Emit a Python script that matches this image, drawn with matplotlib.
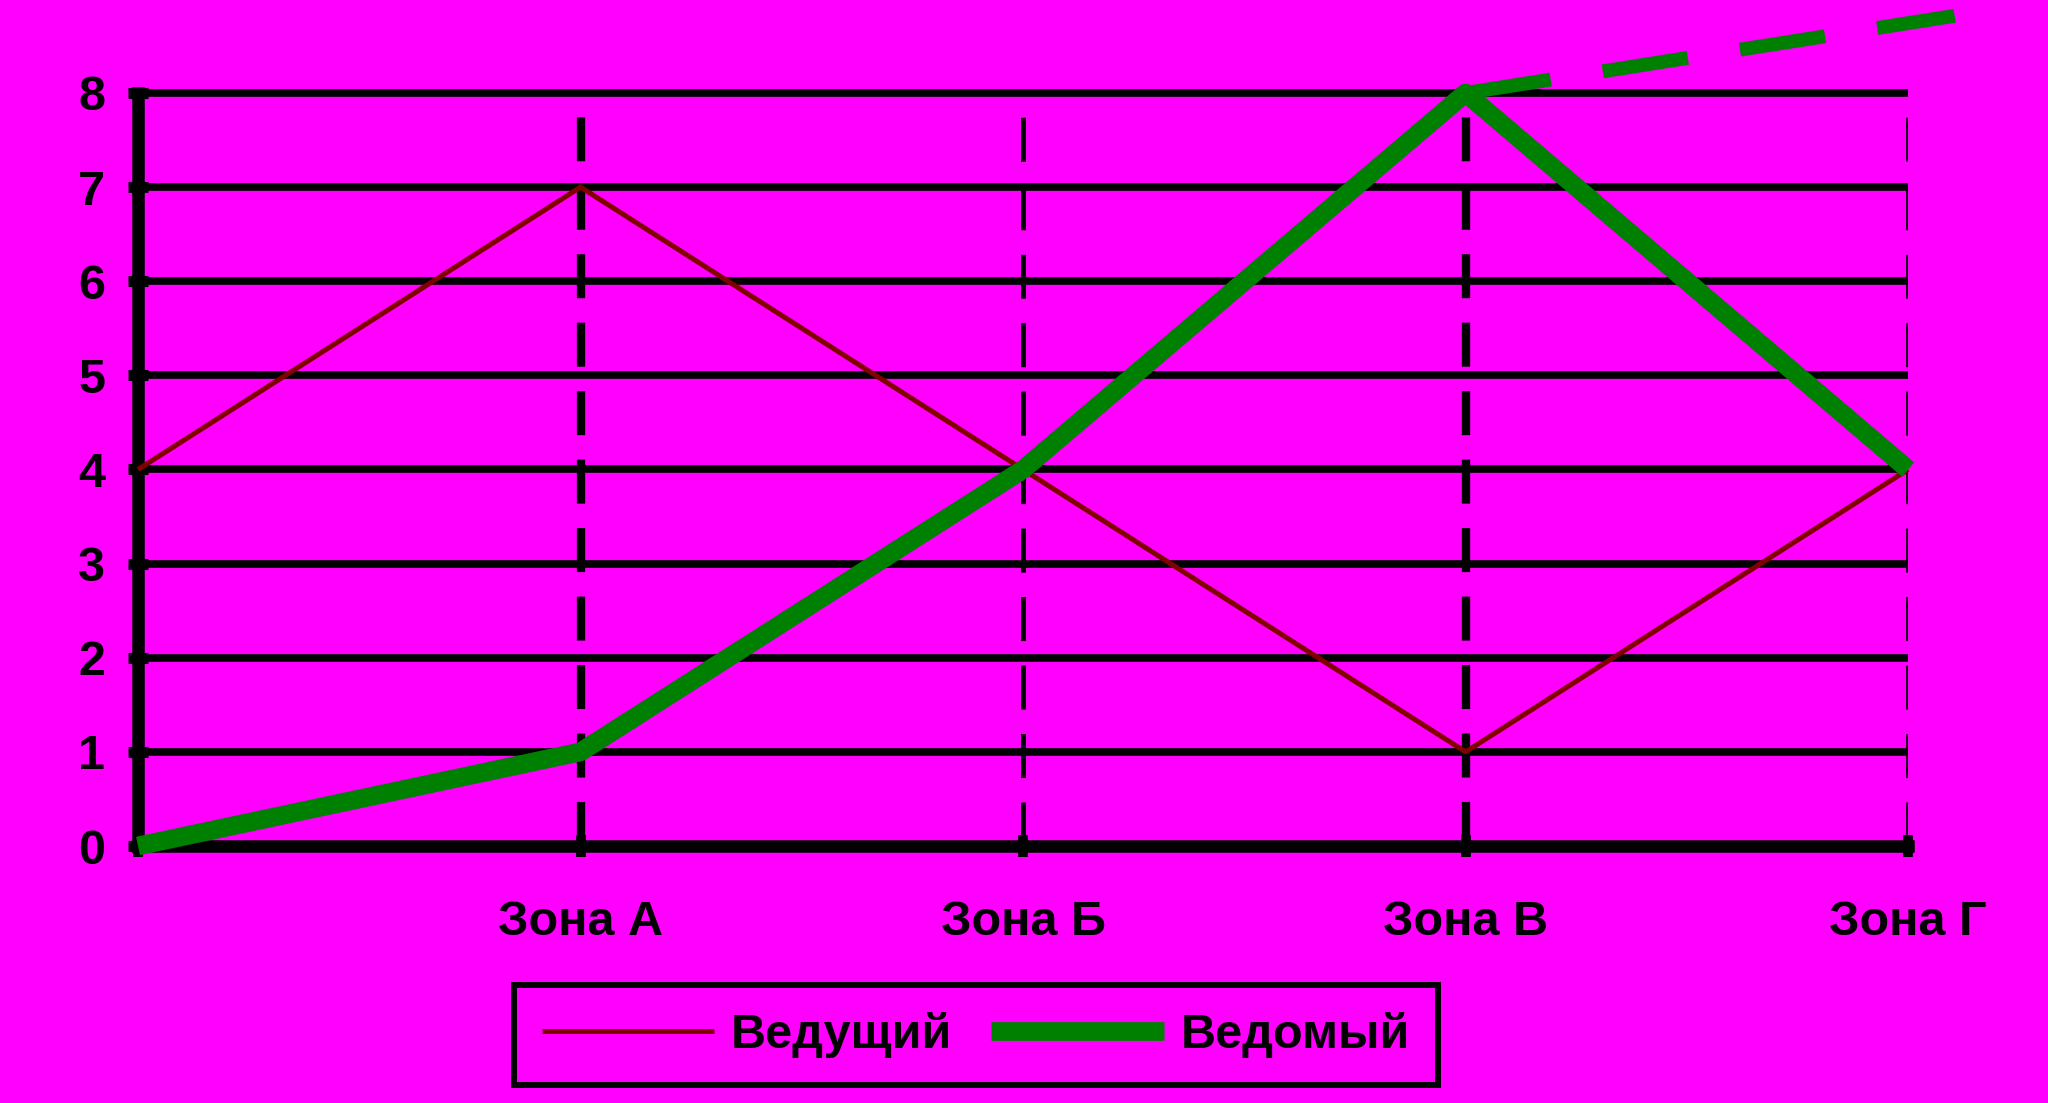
import numpy
import matplotlib
matplotlib.use('Agg')
import matplotlib.pyplot as plt

## Dati
zone = ['', 'Зона А', 'Зона Б', 'Зона В', 'Зона Г']
vedushchiy = [4, 7, 4, 1, 4]
vedomyi = [0, 1, 4, 8, 4]
## tratto verde tratteggiato che esce dal grafico
trend_x = [3, 4.105]
trend_y = [8, 8.82]
yticks = [0, 1, 2, 3, 4, 5, 6, 7, 8]

plt.rcParams['font.family'] = ['Liberation Sans', 'DejaVu Sans']
plt.rcParams['font.weight'] = 'bold'
plt.rcParams['lines.scale_dashes'] = False

sfondo = '#FF00FF'
fig = plt.figure(figsize=(20.48, 11.03), dpi=100, facecolor=sfondo)
ax = fig.add_axes([0.0674, 0.2330, 0.8643, 0.6827], facecolor=sfondo)

x = numpy.arange(len(zone))

##Griglia
ax.hlines(yticks[1:], 0, x[-1], colors='black', linewidth=5.5, zorder=1, clip_on=False)
spessori = [6, 3.6, 6, 3.4]
for xi, lw in zip(x[1:], spessori):
    ax.plot([xi, xi], [0, 8], color='black', linewidth=lw,
            dashes=(31.7, 17.6), solid_capstyle='butt', dash_capstyle='butt', zorder=1)

##Linee
ax.plot(x, vedushchiy, color='#800000', linewidth=3.6, label='Ведущий',
        solid_capstyle='butt', zorder=3, clip_on=False)
ax.plot(x, vedomyi, color='#008000', linewidth=13.5, label='Ведомый',
        solid_capstyle='butt', zorder=4, clip_on=False)
ax.plot(trend_x, trend_y, color='#008000', linewidth=10, dashes=(62, 38),
        dash_capstyle='butt', zorder=4, clip_on=False)

##Assi
ax.set_xlim(0, x[-1])
ax.set_ylim(0, 8)
ax.set_xticks(x)
ax.set_xticklabels(zone)
ax.set_yticks(yticks)
for s in ['top', 'right']:
    ax.spines[s].set_visible(False)
for s in ['left', 'bottom']:
    ax.spines[s].set_linewidth(9)
    ax.spines[s].set_zorder(2)
ax.tick_params(axis='y', direction='inout', length=15, width=8, pad=16, labelsize=35)
ax.tick_params(axis='x', direction='inout', length=16, width=7, pad=31, labelsize=35)

##Legenda
leg = ax.legend(loc='center', bbox_to_anchor=(976 / 2048, 1 - 1035 / 1103),
                bbox_transform=fig.transFigure, ncol=2, fontsize=35,
                handlelength=3.55, handletextpad=0.35, columnspacing=0.8,
                borderpad=0.56, fancybox=False, framealpha=1)
leg.get_frame().set_facecolor(sfondo)
leg.get_frame().set_edgecolor('black')
leg.get_frame().set_linewidth(4.3)

plt.savefig('out.png', dpi=100, facecolor=sfondo)
